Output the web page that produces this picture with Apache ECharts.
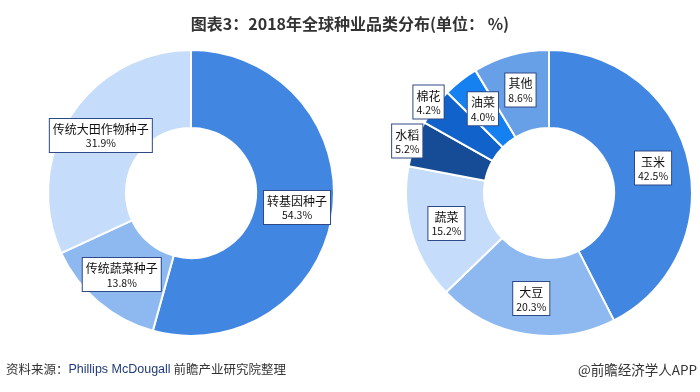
<!DOCTYPE html>
<html>
<head>
<meta charset="utf-8">
<script src="https://cdn.jsdelivr.net/npm/echarts@6/dist/echarts.min.js"></script>
<style>
html,body{margin:0;padding:0;background:#fff;}
#c{width:700px;height:392px;}
</style>
</head>
<body>
<div id="c"></div>
<script>
// Left donut: seed types
const leftCategories = ['转基因种子', '传统蔬菜种子', '传统大田作物种子'];
const leftValues = [54.3, 13.8, 31.9];
// Right donut: crops
const rightCategories = ['玉米', '大豆', '蔬菜', '水稻', '棉花', '油菜', '其他'];
const rightValues = [42.5, 20.3, 15.2, 5.2, 4.2, 4.0, 8.6];

const leftColors = ['#4186E0', '#8DB9F0', '#C5DDFA'];
const rightColors = ['#4186E0', '#8DB9F0', '#C5DDFA', '#164B96', '#1262CC', '#1580F0', '#68A0E8'];
const outerLabelNames = ['水稻', '棉花'];

const FONT = '"Noto Sans CJK SC", "Microsoft YaHei", sans-serif';

const labelStyle = {
  show: true,
  position: 'inside',
  backgroundColor: '#fff',
  borderColor: '#2E4A86',
  borderWidth: 1,
  padding: [3, 3, 2, 3],
  formatter: p => '{n|' + p.name + '}\n{v|' + p.value.toFixed(1) + '%}',
  rich: {
    n: { fontSize: 12, color: '#111', lineHeight: 15, fontFamily: FONT, align: 'center' },
    v: { fontSize: 10.5, color: '#111', lineHeight: 13, fontFamily: FONT, align: 'center' }
  }
};

function makeData(cats, vals, colors, hideSet) {
  return cats.map((c, i) => ({
    name: c,
    value: vals[i],
    itemStyle: { color: colors[i] },
    label: { show: !(hideSet && hideSet.includes(c)) }
  }));
}

const chart = echarts.init(document.getElementById('c'));
chart.setOption({
  backgroundColor: '#fff',
  animation: false,
  title: {
    text: '图表3：2018年全球种业品类分布(单位： %)',
    left: 'center',
    top: 11,
    textStyle: { fontSize: 16, fontWeight: 'bold', color: '#333', fontFamily: FONT }
  },
  graphic: [
    {
      type: 'text', left: 6, top: 363,
      style: {
        text: '{a|资料来源：}{b|Phillips McDougall}{a| 前瞻产业研究院整理}',
        rich: {
          a: { fontSize: 12.5, fill: '#333', fontFamily: FONT },
          b: { fontSize: 12.5, fill: '#1F3A7A', fontFamily: '"Liberation Sans", Arial, sans-serif' }
        }
      }
    },
    {
      type: 'text', right: 3, top: 363,
      style: { text: '@前瞻经济学人APP', fontSize: 13.5, fill: '#333', fontFamily: FONT }
    }
  ],
  series: [
    {
      type: 'pie',
      center: [191, 193],
      radius: [65, 143],
      startAngle: 90,
      clockwise: true,
      avoidLabelOverlap: false,
      itemStyle: { borderColor: '#fff', borderWidth: 2 },
      label: labelStyle,
      labelLine: { show: false },
      emphasis: { disabled: true },
      data: makeData(leftCategories, leftValues, leftColors)
    },
    {
      type: 'pie',
      center: [549, 193],
      radius: [65, 143],
      startAngle: 90,
      clockwise: true,
      avoidLabelOverlap: false,
      itemStyle: { borderColor: '#fff', borderWidth: 2 },
      label: labelStyle,
      labelLine: { show: false },
      emphasis: { disabled: true },
      data: makeData(rightCategories, rightValues, rightColors, outerLabelNames)
    },
    {
      // transparent overlay used only to place the small-slice labels on the outer edge
      type: 'pie',
      center: [549, 193],
      radius: [65, 231],
      startAngle: 90,
      clockwise: true,
      silent: true,
      z: 5,
      avoidLabelOverlap: false,
      itemStyle: { color: 'rgba(0,0,0,0)', borderWidth: 0 },
      label: labelStyle,
      labelLine: { show: false },
      emphasis: { disabled: true },
      data: rightCategories.map((c, i) => ({
        name: c,
        value: rightValues[i],
        itemStyle: { color: 'rgba(0,0,0,0)' },
        label: { show: outerLabelNames.includes(c) }
      }))
    }
  ]
});
</script>
</body>
</html>
